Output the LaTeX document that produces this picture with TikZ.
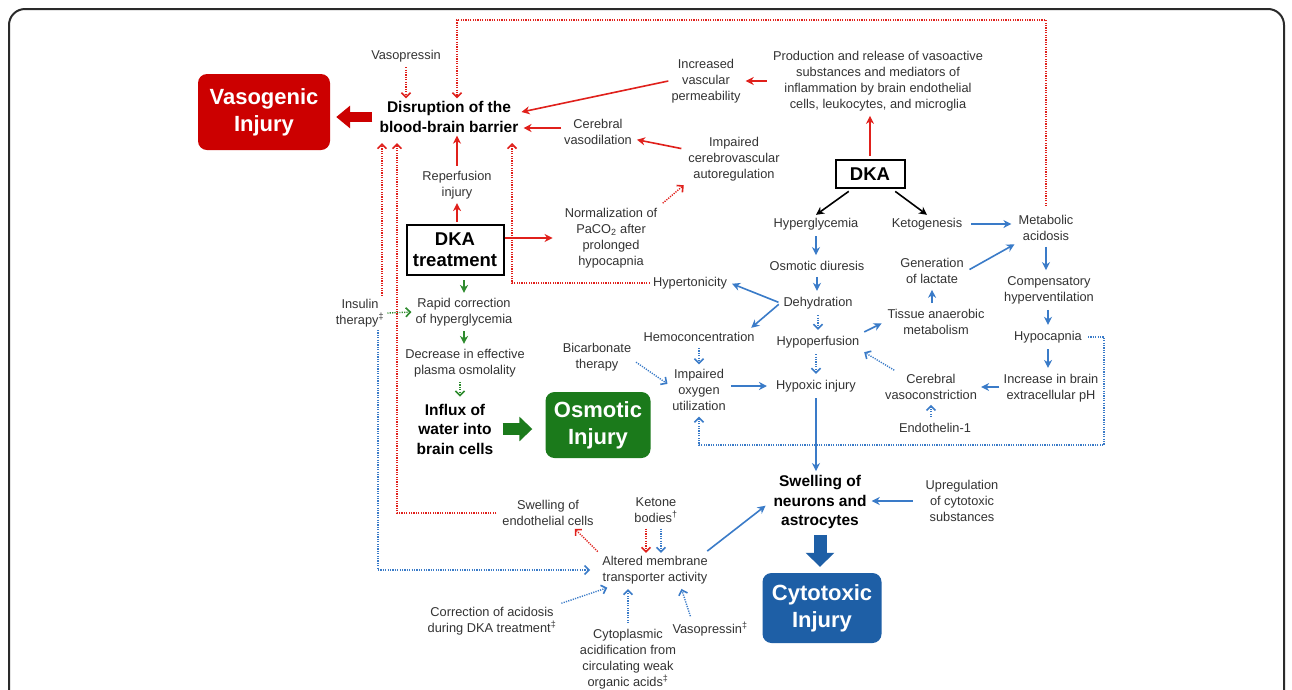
\documentclass[tikz,border=0pt]{standalone}
\usepackage{fontspec}
\setmainfont{Liberation Sans}
\usetikzlibrary{arrows.meta,calc}
\definecolor{rc}{HTML}{E0201B}
\definecolor{bc}{HTML}{3A7BC8}
\definecolor{gc}{HTML}{2E8B2E}
\definecolor{vr}{HTML}{CC0000}
\definecolor{og}{HTML}{1B7A1B}
\definecolor{cb}{HTML}{1E5FA6}
\definecolor{txt}{HTML}{333333}
\definecolor{framec}{HTML}{2A2A2A}
\tikzset{
 lbl/.style={font=\fontsize{12.8}{15.8}\selectfont, text=txt, align=center, inner sep=3pt},
 blbl/.style={font=\bfseries\fontsize{15.5}{19.5}\selectfont, text=black, align=center, inner sep=3pt},
 injbox/.style={font=\bfseries\fontsize{22}{27}\selectfont, text=white, align=center, rounded corners=9pt, inner sep=0pt},
 dkabox/.style={draw=black, line width=2pt, font=\bfseries\fontsize{18.5}{21}\selectfont, align=center, inner sep=0pt},
 stip/.style={-{Stealth[length=8pt,width=8pt,inset=2.5pt]}},
 dtip/.style={-{Straight Barb[length=4.5pt,width=9pt,line width=1.6pt]}},
 ra/.style={stip, draw=rc, line width=1.6pt},
 ba/.style={stip, draw=bc, line width=1.6pt},
 ga/.style={stip, draw=gc, line width=1.6pt},
 ka/.style={stip, draw=black, line width=1.6pt},
 rd/.style={dtip, draw=rc, line width=1.4pt, dash pattern=on 1.2pt off 1.2pt},
 bd/.style={dtip, draw=bc, line width=1.4pt, dash pattern=on 1.2pt off 1.2pt},
 gd/.style={dtip, draw=gc, line width=1.4pt, dash pattern=on 1.2pt off 1.2pt},
}
\begin{document}
\begin{tikzpicture}[x=1pt,y=-1pt]
\useasboundingbox (0,0) rectangle (1292,689);
\clip (0,0) rectangle (1292,689);
\fill[white] (0,0) rectangle (1292,689);
\draw[line width=2pt, framec, rounded corners=16pt] (9,720) -- (9,9) -- (1284,9) -- (1284,720);

% nodes
\node[lbl] (vp1) at (406,56) {Vasopressin};
\node[blbl] (dis) at (449,117) {Disruption of the\\blood-brain barrier};
\node[injbox, fill=vr, minimum width=132pt, minimum height=76pt] (vaso) at (264,112) {Vasogenic\\Injury};
\node[lbl] (incr) at (706,81) {Increased\\vascular\\permeability};
\node[lbl] (prod) at (878,81) {Production and release of vasoactive\\substances and mediators of\\inflammation by brain endothelial\\cells, leukocytes, and microglia};
\node[lbl] (cvas) at (598,132) {Cerebral\\vasodilation};
\node[lbl] (imp) at (734,159) {Impaired\\cerebrovascular\\autoregulation};
\node[dkabox, minimum width=69pt, minimum height=28pt] (dka) at (870,174) {DKA};
\node[lbl] (reperf) at (457,185) {Reperfusion\\injury};
\node[dkabox, minimum width=97pt, minimum height=50pt] (dkat) at (455,250) {DKA\\treatment};
\node[lbl] (norm) at (611,238) {Normalization of\\PaCO\textsubscript{2} after\\prolonged\\hypocapnia};
\node[lbl] (hyperg) at (816,224) {Hyperglycemia};
\node[lbl] (keto) at (927,224) {Ketogenesis};
\node[lbl] (metab) at (1046,228) {Metabolic\\acidosis};
\node[lbl] (osmd) at (817,266) {Osmotic diuresis};
\node[lbl] (genlac) at (932,271) {Generation\\of lactate};
\node[lbl] (hyperton) at (690,283) {Hypertonicity};
\node[lbl] (dehyd) at (818,303) {Dehydration};
\node[lbl] (comp) at (1049,290) {Compensatory\\hyperventilation};
\node[lbl] (tissue) at (936,322) {Tissue anaerobic\\metabolism};
\node[lbl] (insulin) at (360,313) {Insulin\\therapy\textsuperscript{‡}};
\node[lbl] (rapid) at (464,312) {Rapid correction\\of hyperglycemia};
\node[lbl] (hemo) at (699,337) {Hemoconcentration};
\node[lbl] (hypop) at (818,342) {Hypoperfusion};
\node[lbl] (hypoc) at (1048,337) {Hypocapnia};
\node[lbl] (bicarb) at (597,357) {Bicarbonate\\therapy};
\node[lbl] (decr) at (465,363) {Decrease in effective\\plasma osmolality};
\node[lbl] (impox) at (699,390) {Impaired\\oxygen\\utilization};
\node[lbl] (hypox) at (816,386) {Hypoxic injury};
\node[lbl] (cvc) at (931,387) {Cerebral\\vasoconstriction};
\node[lbl] (incph) at (1051,388) {Increase in brain\\extracellular pH};
\node[lbl] (endo) at (935,428) {Endothelin-1};
\node[blbl] (influx) at (455,429) {Influx of\\water into\\brain cells};
\node[injbox, fill=og, minimum width=105pt, minimum height=66pt] (osm) at (598,425) {Osmotic\\Injury};
\node[blbl] (swneu) at (820,502) {Swelling of\\neurons and\\astrocytes};
\node[lbl] (upreg) at (962,501) {Upregulation\\of cytotoxic\\substances};
\node[lbl] (swendo) at (548,513) {Swelling of\\endothelial cells};
\node[lbl] (ketone) at (656,510) {Ketone\\bodies\textsuperscript{†}};
\node[lbl] (alt) at (655,570) {Altered membrane\\transporter activity};
\node[injbox, fill=cb, minimum width=119pt, minimum height=70pt] (cyto) at (822,608) {Cytotoxic\\Injury};
\node[lbl] (corr) at (492,621) {Correction of acidosis\\during DKA treatment\textsuperscript{‡}};
\node[lbl] (cytoac) at (628,659) {Cytoplasmic\\acidification from\\circulating weak\\organic acids\textsuperscript{‡}};
\node[lbl] (vp2) at (710,629) {Vasopressin\textsuperscript{‡}};

% helper coordinates
\coordinate (tl) at (457,20);
\coordinate (bb1) at (382,143);
\coordinate (bb2) at (397,143);
\coordinate (bb3) at (512,143);
\coordinate (ibx) at (378,332);
\coordinate (hc) at (1104,445);

% block arrows
\draw[line width=10pt, vr, -{Triangle[length=14pt,width=22pt]}, shorten <=4pt, shorten >=6pt] (dis.west) -- (dis.west -| vaso.east);
\draw[line width=12pt, og, -{Triangle[length=13pt,width=24pt]}, shorten <=6pt, shorten >=13pt] (influx.east) -- (influx.east -| osm.west);
\draw[line width=13pt, cb, -{Triangle[length=14pt,width=28pt]}, shorten <=3pt, shorten >=6pt] (swneu.south) -- (swneu.south |- cyto.north);

% red connectors
\draw[rd, shorten <=2pt] (vp1.south) -- (vp1.south |- dis.north);
\draw[rd, shorten <=6pt] (metab.north) |- (tl) -- (tl |- dis.north);
\draw[ra, shorten <=3pt, shorten >=2pt] (prod.west) -- (prod.west -| incr.east);
\draw[ra] (incr.west) -- ([yshift=5pt]dis.east);
\draw[ra, shorten >=2pt] ([yshift=4pt]cvas.west) -- ([yshift=4pt]cvas.west -| dis.east);
\draw[ra, shorten <=4pt, shorten >=2pt] (imp) -- (cvas);
\draw[rd, shorten <=3pt, shorten >=2pt] (norm.north east) -- (imp.south west);
\draw[ra, shorten <=3pt, shorten >=2pt] (dka.north) -- (dka.north |- prod.south);
\draw[ra, shorten <=2pt] (reperf.north) -- (reperf.north |- dis.south);
\draw[ra, shorten <=2pt, shorten >=1pt] (dkat.north -| reperf.north) -- (reperf.south);
\draw[ra, shorten >=9pt] (dkat.east |- norm.west) -- (norm.west);
\draw[rd] (hyperton.west) -| (bb3);
\draw[rd] (bb1 |- insulin.north) -- (bb1);
\draw[rd, shorten <=3pt] (swendo.west) -| (bb2);
\draw[rd, shorten <=2pt] (alt.north west) -- ([xshift=-22pt]swendo.south east);
\draw[rd, shorten <=3pt] ([xshift=-10pt]ketone.south) -- ([xshift=-10pt]ketone.south |- alt.north);

% black connectors
\draw[ka, shorten <=4pt] ([xshift=-18pt]dka.south) -- (hyperg.north);
\draw[ka, shorten <=4pt] ([xshift=22pt]dka.south) -- (keto.north);

% green connectors
\draw[gd, shorten >=1pt] (insulin.east) -- (rapid.west);
\draw[ga, shorten <=4pt, shorten >=2pt] (rapid.north |- dkat.south) -- (rapid.north);
\draw[ga, shorten <=2pt, shorten >=2pt] (rapid.south) -- (rapid.south |- decr.north);
\draw[gd, shorten <=2pt, shorten >=4pt] ([xshift=-5pt]decr.south) -- ([xshift=-5pt]decr.south |- influx.north);

% blue connectors
\draw[bd, shorten >=9pt] (ibx |- insulin.south) |- (alt.west);
\draw[bd, shorten <=2pt, shorten >=2pt] ([yshift=-4pt]bicarb.east) -- ([yshift=5pt]impox.west);
\draw[bd, shorten <=3pt, shorten >=2pt] (hemo.south) -- (hemo.south |- impox.north);
\draw[ba, shorten <=2pt, shorten >=6pt] (impox.east |- hypox.west) -- (hypox.west);
\draw[ba, shorten <=2pt, shorten >=2pt] (dehyd.west) -- (hyperton.east);
\draw[ba, shorten <=2pt, shorten >=2pt] (dehyd.west) -- ([xshift=-8pt]hemo.north east);
\draw[ba, shorten <=3pt, shorten >=3pt] (hyperg.south) -- (hyperg.south |- osmd.north);
\draw[ba, shorten <=3pt, shorten >=3pt] (osmd.south) -- (osmd.south |- dehyd.north);
\draw[bd, shorten <=3pt, shorten >=3pt] (dehyd.south) -- (dehyd.south |- hypop.north);
\draw[bd, shorten <=3pt, shorten >=3pt] (hypop.south -| hypox.north) -- (hypox.north);
\draw[ba, shorten <=3pt, shorten >=1pt] (hypox.south) -- (hypox.south |- swneu.north);
\draw[ba, shorten <=2pt, shorten >=3pt] (hypop.north east) -- (tissue.west);
\draw[ba, shorten <=3pt, shorten >=3pt] (tissue.north -| genlac.south) -- (genlac.south);
\draw[ba, shorten <=3pt, shorten >=1pt] (genlac.east) -- (metab.south west);
\draw[ba, shorten <=6pt, shorten >=4pt] (keto.east) -- (keto.east -| metab.west);
\draw[ba, shorten <=3pt, shorten >=3pt] (metab.south) -- (metab.south |- comp.north);
\draw[ba, shorten <=3pt, shorten >=3pt] (comp.south -| hypoc.north) -- (hypoc.north);
\draw[ba, shorten <=3pt, shorten >=3pt] (hypoc.south) -- (hypoc.south |- incph.north);
\draw[ba, shorten <=1pt, shorten >=1pt] (incph.west |- cvc.east) -- (cvc.east);
\draw[bd, shorten <=2pt, shorten >=2pt] ([xshift=14pt]cvc.north west) -- (hypop.south east);
\draw[bd, shorten <=3pt, shorten >=2pt] (endo.north -| cvc.south) -- (cvc.south);
\draw[bd, shorten <=3pt, shorten >=3pt] (hypoc.east) -| (hc) -| (impox.south);
\draw[ba, shorten <=10pt, shorten >=2pt] (upreg.west) -- (upreg.west -| swneu.east);
\draw[bd, shorten <=3pt] ([xshift=5pt]ketone.south) -- ([xshift=5pt]ketone.south |- alt.north);
\draw[ba, shorten <=3pt, shorten >=6pt] ([xshift=-6pt]alt.north east) -- (swneu.west);
\draw[bd, shorten <=2pt, shorten >=2pt] (corr.north east) -- ([xshift=10pt]alt.south west);
\draw[bd, shorten <=3pt, shorten >=2pt] (cytoac.north) -- (cytoac.north |- alt.south);
\draw[bd, shorten <=3pt, shorten >=2pt] ([xshift=22pt]vp2.north west) -- ([xshift=-30pt]alt.south east);
\end{tikzpicture}
\end{document}
